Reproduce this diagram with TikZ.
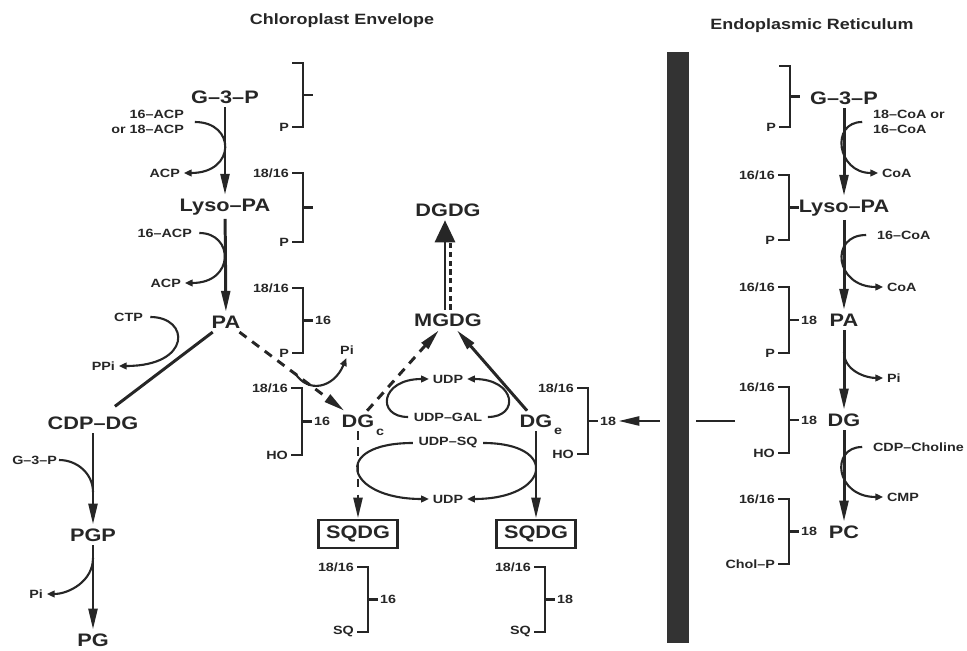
\documentclass[tikz,border=0pt]{standalone}
\usepackage{fontspec}
\setmainfont{Liberation Sans}[FakeStretch=1.2]
\usepackage{xcolor}
\usetikzlibrary{arrows.meta}
\definecolor{membrane}{HTML}{333333}

\begin{document}
\begin{tikzpicture}[
    x=0.02cm, y=-0.02cm,
    >={Triangle[length=12pt, width=5pt]},
    big/.style={font=\bfseries\fontsize{10.3}{12}\selectfont, text=black!85, inner sep=2pt},
    sm/.style={font=\bfseries\fontsize{6.8}{8.5}\selectfont, text=black!85, inner sep=1pt},
    hdr/.style={font=\bfseries\fontsize{8.5}{10}\selectfont, text=black!85},
    sq/.style={big, draw=black!85, line width=1.5pt, minimum width=1.58cm, minimum height=0.56cm},
    rx/.style={->, draw=black!85, line width=1.7pt},
    rxd/.style={rx, dash pattern=on 5pt off 4pt},
    feed/.style={draw=black!85, line width=1.2pt},
    aux/.style={feed, -{Triangle[length=4.5pt, width=3.8pt]}, shorten >=1pt},
    brk/.style={draw=black!85, line width=1.6pt}]
  \useasboundingbox (0,0) rectangle (967,651);
  % headers
  \node[hdr] (hcp) at (342,21) {Chloroplast Envelope};
  \node[hdr] (her) at (812,26) {Endoplasmic Reticulum};
  % chloroplast: main column
  \node[big] (g3p) at (225,97) {G–3–P};
  \node[big] (lpa) at (225,207) {Lyso–PA};
  \node[big] (pa) at (226,322) {PA};
  \node[big] (cdpdg) at (93,423) {CDP–DG};
  \node[big] (pgp) at (93,535) {PGP};
  \node[big] (pg) at (93,640) {PG};
  \node[sm, align=right, anchor=east] (acpa) at (186,122) {16–ACP\\or 18–ACP};
  \node[sm, anchor=east] (acpb) at (182,173) {ACP};
  \node[sm, anchor=east] (acpc) at (194,233) {16–ACP};
  \node[sm, anchor=east] (acpd) at (183,283) {ACP};
  \node[sm, anchor=east] (ctp) at (145,317) {CTP};
  \node[sm, anchor=east] (ppi) at (117,366) {PPi};
  \node[sm, anchor=east] (g3ps) at (59,460) {G–3–P};
  \node[sm, anchor=east] (pia) at (45,594) {Pi};
  % galactolipids and sulfolipid
  \node[big] (dgdg) at (448,210) {DGDG};
  \node[big] (mgdg) at (448,320) {MGDG};
  \node[big] (dgc) at (358,421) {DG};
  \node[sm] (dgcs) at (380,432) {c};
  \node[big] (dge) at (536,421) {DG};
  \node[sm] (dges) at (558,431) {e};
  \node[sm] (pib) at (347,350) {Pi};
  \node[sm] (udpa) at (448,379) {UDP};
  \node[sm] (udpgal) at (448,417) {UDP–GAL};
  \node[sm] (udpsq) at (448,443) {UDP–SQ};
  \node[sm] (udpb) at (448,499) {UDP};
  \node[sq] (sqdgc) at (358,534) {SQDG};
  \node[sq] (sqdge) at (536,534) {SQDG};
  % endoplasmic reticulum column
  \node[big] (eg3p) at (844,98) {G–3–P};
  \node[big] (elpa) at (844,208) {Lyso–PA};
  \node[big] (epa) at (844,320) {PA};
  \node[big] (edg) at (844,420) {DG};
  \node[big] (epc) at (844,532) {PC};
  \node[sm, align=left, anchor=west] (coaa) at (871,122) {18–CoA or\\16–CoA};
  \node[sm, anchor=west] (coab) at (880,173) {CoA};
  \node[sm, anchor=west] (coac) at (875,235) {16–CoA};
  \node[sm, anchor=west] (coad) at (885,287) {CoA};
  \node[sm, anchor=west] (pic) at (885,378) {Pi};
  \node[sm, anchor=west] (cdpch) at (871,447) {CDP–Choline};
  \node[sm, anchor=west] (cmp) at (885,497) {CMP};
  % acyl brackets (name/spine x/top y/bottom y/top/middle/bottom)
  \foreach \n/\xs/\yt/\yb/\lt/\lm/\lb in {
      la/303/63/127/{}/{}/P, lb/303/173/242/{18/16}/{}/P,
      lc/303/288/353/{18/16}/16/P, ld/302/388/455/{18/16}/16/HO,
      sc/368/567/632/{18/16}/16/SQ, se/545/567/632/{18/16}/18/SQ,
      de/588/388/454/{18/16}/18/HO,
      ea/790/66/127/{}/{}/P, eb/789/175/240/{16/16}/{}/P,
      ec/789/287/353/{16/16}/18/P, ed/789/387/453/{16/16}/18/HO,
      ee/789/499/564/{16/16}/18/{Chol–P}} {
    \node[sm, anchor=east] (\n-t) at (\xs-12,\yt) {\lt};
    \node[sm, anchor=east] (\n-b) at (\xs-12,\yb) {\lb};
    \node[sm, anchor=west] (\n-m) at (\xs+10,{(\yt+\yb)/2}) {\lm};
    \draw[brk] (\xs-11,\yt) -- (\xs,\yt) -- (\xs,\yb) -- (\xs-11,\yb);
    \draw[brk] (\xs,{(\yt+\yb)/2}) -- (\xs+10,{(\yt+\yb)/2});
  }
  % chloroplast reactions
  \draw[rx] (g3p) -- (lpa);
  \draw[rx] (lpa) -- (pa);
  \draw[feed, line width=1.7pt, shorten >=6pt] (pa) -- (cdpdg);
  \draw[rx] (cdpdg) -- (pgp);
  \draw[rx] (pgp) -- (pg);
  \draw[aux, shorten <=5pt] (acpa.east) .. controls +(50,0) and +(54,0) .. (acpb.east);
  \draw[aux, shorten <=3pt] (acpc.east) .. controls +(40,0) and +(52,0) .. (acpd.east);
  \draw[aux, shorten <=3pt] (ctp.east) .. controls +(45,0) and +(75,0) .. (ppi.east);
  \coordinate (cdj) at (93,492);
  \draw[feed] (g3ps.east) to[out=0, in=90] (cdj);
  \coordinate (pgj) at (93,558);
  \draw[aux] (pgj) to[out=-90, in=0] (pia.east);
  % galactolipid and sulfolipid synthesis
  \draw[rxd] (pa) -- (dgc);
  \coordinate (paj) at (295,373);
  \draw[aux] (paj) .. controls (308,394) and (334,388) .. (pib.south);
  \draw[rxd] (dgc) -- (mgdg);
  \draw[rx] (dge) -- (mgdg);
  \draw[rx, -{Triangle[length=0.44cm, width=0.4cm]}] ([xshift=-0.06cm]mgdg.north) -- ([xshift=-0.06cm]dgdg.south);
  \draw[feed, dash pattern=on 3pt off 2pt] ([xshift=0.05cm]mgdg.north) -- ([xshift=0.05cm, yshift=-0.4cm]dgdg.south);
  \draw[aux, shorten <=2pt] (udpgal.west) .. controls (376,417) and (380,379) .. (udpa.west);
  \draw[aux, shorten <=2pt] (udpgal.east) .. controls (520,417) and (516,379) .. (udpa.east);
  \draw[aux, shorten <=2pt] (udpsq.west) .. controls (330,443) and (345,499) .. (udpb.west);
  \draw[aux, shorten <=2pt] (udpsq.east) .. controls (560,443) and (550,499) .. (udpb.east);
  \draw[rxd] (dgc) -- (sqdgc);
  \draw[rx] (dge) -- (sqdge);
  % ER reactions
  \draw[rx] (eg3p) -- (elpa);
  \draw[rx] (elpa) -- (epa);
  \draw[rx] (epa) -- (edg);
  \draw[rx] (edg) -- (epc);
  \draw[aux, shorten <=5pt] (coaa.west) .. controls +(-41,0) and +(-43,0) .. (coab.west);
  \draw[aux, shorten <=5pt] (coac.west) .. controls +(-46,0) and +(-50,0) .. (coad.west);
  \draw[aux, shorten <=5pt] (cdpch.west) .. controls +(-41,0) and +(-50,0) .. (cmp.west);
  \coordinate (epj) at (844,352);
  \draw[aux] (epj) to[out=-90, in=180] (pic.west);
  % return of DG across the envelope
  \coordinate (erout) at (735,421);
  \draw[rx] (erout) -- (de-m.east);
  \fill[white] (660,45) rectangle (696,650);
  \fill[membrane] (667,52) rectangle (689,643);
\end{tikzpicture}
\end{document}
